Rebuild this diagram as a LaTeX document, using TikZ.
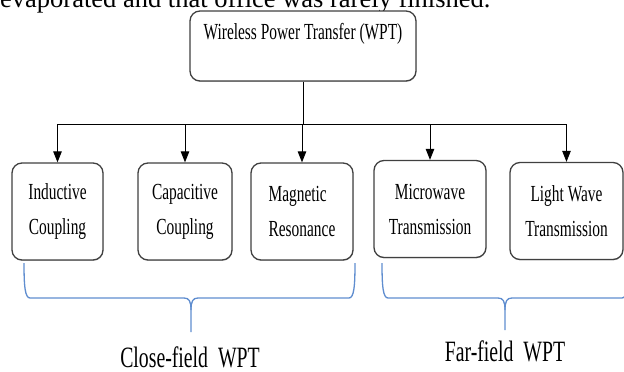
\documentclass[tikz,border=0pt]{standalone}
\usepackage{fontspec}
\setmainfont{Liberation Serif}
\newfontfamily\narrowserif[FakeStretch=0.67]{Liberation Serif}
\usetikzlibrary{shadows,arrows.meta}
\tikzset{>={Triangle[length=11pt,width=8.5pt]}}
\definecolor{brace_blue}{RGB}{95,141,207}
\definecolor{box_gray}{RGB}{64,64,64}

\begin{document}
\begin{tikzpicture}[x=1pt,y=-1pt,
					box/.style={draw=box_gray, line width=1.3pt, rounded corners=10pt, fill=white,
						drop shadow={shadow xshift=0.4pt, shadow yshift=-0.9pt, opacity=0.45},
						font=\narrowserif\fontsize{23}{35}\selectfont, align=center,
						minimum height=97pt, inner sep=0pt},
					link/.style={line width=0.9pt},
					brace/.style={draw=brace_blue, line width=1.3pt},
					field/.style={font=\narrowserif\fontsize{29.5}{32}\selectfont, anchor=base, inner sep=0pt},
				]
				\useasboundingbox (0,0) rectangle (624,372);
				\clip (0,0) rectangle (624,372);

				% running text of the page above
				\node[anchor=base west, inner sep=0pt, font=\fontsize{26.5}{30}\selectfont] (prose) at (0,7) {evaporated and that office was rarely finished.};

				\node[box, minimum width=226pt, minimum height=0pt, text height=28pt, text depth=42pt] (wpt) at (303,46) {Wireless Power Transfer (WPT)};
				\node[box, minimum width=91pt] (inductive) at (57.5,211.5) {Inductive\\Coupling};
				\node[box, minimum width=94pt] (capacitive) at (185,211.5) {Capacitive\\Coupling};
				\node[box, minimum width=102pt, align=left] (magnetic) at (302,211.5) {Magnetic\\Resonance};
				\node[box, minimum width=112pt] (microwave) at (430,209) {Microwave\\Transmission};
				\node[box, minimum width=113pt] (lightwave) at (566.5,211) {Light Wave\\Transmission};

				\coordinate (bus) at (303,124);
				\draw[link] (wpt.south) -- (wpt.south |- bus);
				\draw[link] (inductive.north |- bus) -- (lightwave.north |- bus);
				\foreach \n in {inductive,capacitive,magnetic,microwave,lightwave}
					\draw[link,->] (\n.north |- bus) -- (\n.north);

				% Braces
				\draw[brace] (24,263) .. controls (24,286) and (25,298) .. (30,298) -- (184,298) .. controls (189,298) and (191,301) .. (191,310) -- (191,332);
				\draw[brace] (355,263) .. controls (355,286) and (354,298) .. (349,298) -- (198,298) .. controls (193,298) and (191,301) .. (191,310);
				\draw[brace] (382,263) .. controls (382,286) and (383,298) .. (388,298) -- (498,298) .. controls (503,298) and (505,301) .. (505,310) -- (505,330);
				\draw[brace] (628,263) .. controls (628,286) and (627,298) .. (622,298) -- (512,298) .. controls (507,298) and (505,301) .. (505,310);

				\node[field] (closefield) at (190,367) {Close-field~~WPT};
				\node[field] (farfield) at (505,361) {Far-field~~WPT};

			\end{tikzpicture}
\end{document}
